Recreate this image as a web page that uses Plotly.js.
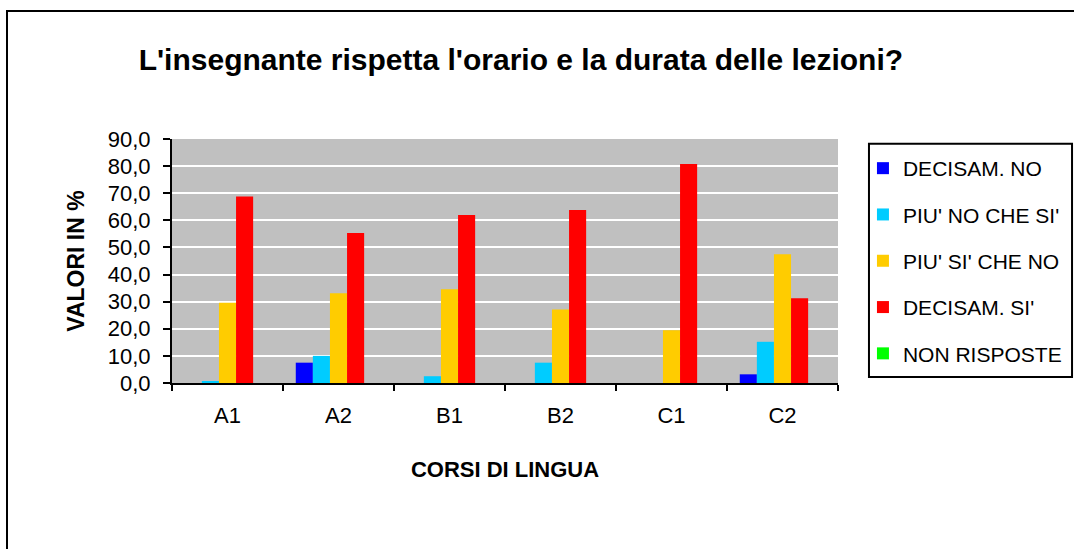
<!DOCTYPE html>
<html>
<head>
<meta charset="utf-8">
<script src="https://cdn.plot.ly/plotly-3.0.1.min.js"></script>
<style>
  body { margin: 0; background: #fff; }
  #chart { width: 1074px; height: 549px; }
  #frame { position: absolute; left: 6px; top: 10px; width: 1080px; height: 560px;
           border-left: 2px solid #000; border-top: 2px solid #000; pointer-events: none; }
</style>
</head>
<body>
<div id="chart"></div>
<div id="frame"></div>
<script>
var corsi = ['A1', 'A2', 'B1', 'B2', 'C1', 'C2'];

var decisamNo   = [0, 7.5, 0, 0, 0, 3.2];
var piuNoCheSi  = [0.7, 10.0, 2.5, 7.5, 0, 15.2];
var piuSiCheNo  = [29.6, 33.1, 34.6, 27.1, 19.5, 47.5];
var decisamSi   = [68.8, 55.3, 62.0, 63.8, 80.8, 31.3];
var nonRisposte = [0, 0, 0, 0, 0, 0];

var font = "'Liberation Sans', Arial, sans-serif";

function serie(nome, valori, colore) {
  return {
    x: corsi,
    y: valori,
    name: nome,
    legendgroup: nome,
    type: 'bar',
    marker: { color: colore, line: { width: 0 } },
    hoverinfo: 'name+y'
  };
}

var data = [
  serie('DECISAM. NO', decisamNo, '#0000FF'),
  serie("PIU' NO CHE SI'", piuNoCheSi, '#00CCFF'),
  serie("PIU' SI' CHE NO", piuSiCheNo, '#FFCC00'),
  serie("DECISAM. SI'", decisamSi, '#FF0000'),
  serie('NON RISPOSTE', nonRisposte, '#00FF00')
];

var layout = {
  width: 1074,
  height: 549,
  margin: { l: 172, r: 236, t: 139, b: 166 },
  paper_bgcolor: '#ffffff',
  plot_bgcolor: '#C0C0C0',
  separators: ', ',
  font: { family: font, size: 21, color: '#000' },
  title: {
    text: "L'insegnante rispetta l'orario e la durata delle lezioni?",
    font: { family: font, size: 30, color: '#000', weight: 'bold' },
    xref: 'container', yref: 'container',
    x: 0.485, xanchor: 'center',
    y: 0.892, yanchor: 'middle'
  },
  barmode: 'group',
  bargap: 0.23,
  bargroupgap: 0,
  xaxis: {
    type: 'category',
    showline: true, linecolor: '#000', linewidth: 2,
    ticks: 'outside', tickson: 'boundaries', ticklen: 6, tickwidth: 2, tickcolor: '#000',
    ticklabelstandoff: 12,
    tickfont: { size: 22 },
    showgrid: false,
    title: { text: 'CORSI DI LINGUA', font: { size: 22, weight: 'bold' }, standoff: 34 }
  },
  yaxis: {
    range: [0, 90],
    dtick: 10,
    tickformat: '.1f',
    showline: true, linecolor: '#000', linewidth: 2,
    ticks: 'outside', ticklen: 7, tickwidth: 2, tickcolor: '#000',
    ticklabelstandoff: 8,
    tickfont: { size: 22 },
    gridcolor: '#ffffff', gridwidth: 2,
    zeroline: false,
    title: { text: 'VALORI IN %', font: { size: 23, weight: 'bold' }, standoff: 17 }
  },
  showlegend: true,
  legend: {
    xref: 'container', yref: 'container',
    x: 0.8035, xanchor: 'left',
    y: 0.7304, yanchor: 'top',
    bgcolor: 'rgba(0,0,0,0)',
    borderwidth: 0,
    traceorder: 'grouped',
    tracegroupgap: 16,
    font: { size: 21 }
  },
  shapes: [{
    type: 'rect', xref: 'paper', yref: 'paper',
    x0: 1.0465, x1: 1.3514, y0: 0.0246, y1: 0.9807,
    line: { color: '#000', width: 2 },
    fillcolor: 'rgba(0,0,0,0)'
  }]
};

Plotly.newPlot('chart', data, layout, { displayModeBar: false });
</script>
</body>
</html>
